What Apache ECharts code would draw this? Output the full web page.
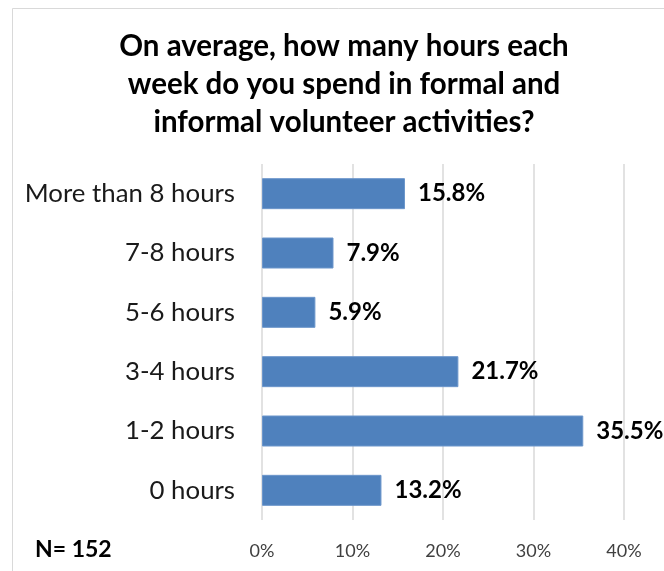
<!DOCTYPE html>
<html>
<head>
<meta charset="utf-8">
<script src="https://cdn.jsdelivr.net/npm/echarts@6/dist/echarts.min.js"></script>
<style>
  html, body { margin: 0; padding: 0; background: #fff; }
  #chart { width: 664px; height: 571px; }
</style>
</head>
<body>
<div id="chart"></div>
<script>
const categories = ['0 hours', '1-2 hours', '3-4 hours', '5-6 hours', '7-8 hours', 'More than 8 hours'];
const percents = [13.2, 35.5, 21.7, 5.9, 7.9, 15.8];
const tickLabels = ['0%', '10%', '20%', '30%', '40%'];

const fontFamily = 'Lato, "Open Sans", sans-serif';
const myChart = echarts.init(document.getElementById('chart'));

const option = {
    backgroundColor: '#fff',
    animation: false,
    title: {
        text: 'On average, how many hours each\nweek do you spend in formal and\ninformal volunteer activities?',
        left: 339,
        textAlign: 'center',
        top: 22,
        textStyle: {
            fontFamily: fontFamily,
            fontSize: 29.5,
            fontWeight: 'bold',
            color: '#000',
            lineHeight: 38
        }
    },
    graphic: [
        {
            type: 'rect',
            shape: { x: 12.5, y: 8.5, width: 700, height: 600 },
            style: { fill: 'none', stroke: '#d9d9d9', lineWidth: 1 },
            silent: true
        },
        {
            type: 'text',
            left: 35,
            top: 538,
            style: {
                text: 'N= 152',
                font: 'bold 23px ' + fontFamily,
                fill: '#000'
            }
        }
    ],
    grid: {
        left: 262,
        right: 40,
        top: 164,
        bottom: 51
    },
    xAxis: {
        type: 'value',
        min: 0,
        max: 40,
        interval: 10,
        axisLine: { show: false },
        axisTick: { show: false },
        splitLine: { lineStyle: { color: '#d9d9d9', width: 1.5 } },
        axisLabel: {
            margin: 22,
            fontFamily: fontFamily,
            fontSize: 18,
            color: '#404040',
            formatter: function (v) { return tickLabels[Math.round(v / 10)]; }
        }
    },
    yAxis: {
        type: 'category',
        data: categories,
        axisLine: { show: false },
        axisTick: { show: false },
        axisLabel: {
            margin: 27,
            fontFamily: fontFamily,
            fontSize: 25.8,
            color: '#1a1a1a'
        }
    },
    series: [{
        type: 'bar',
        data: percents,
        barWidth: 31,
        itemStyle: {
            color: '#4F81BD',
            borderColor: '#6C96CB',
            borderWidth: 1
        },
        label: {
            show: true,
            position: 'right',
            distance: 13,
            fontFamily: fontFamily,
            fontSize: 24,
            fontWeight: 'bold',
            color: '#000',
            formatter: function (p) { return p.value.toFixed(1) + '%'; }
        }
    }]
};

myChart.setOption(option);
</script>
</body>
</html>
